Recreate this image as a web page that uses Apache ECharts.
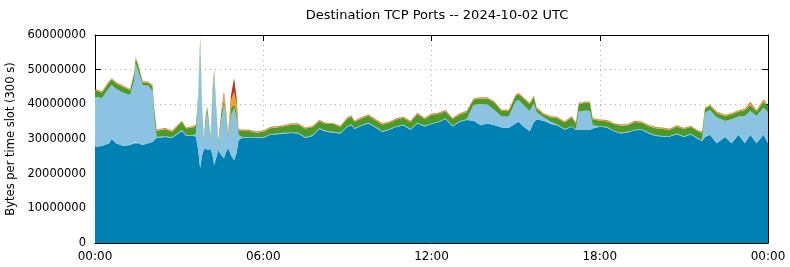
<!DOCTYPE html>
<html><head><meta charset="utf-8">
<script src="https://cdn.jsdelivr.net/npm/echarts@6/dist/echarts.min.js"></script>
<style>html,body{margin:0;padding:0;background:#fff}#c{width:790px;height:267px}</style>
</head><body><div id="c"></div>
<script>
// time of day in hours (UTC, 2024-10-02)
var hours = [0,0.25,0.5,0.6,0.75,1,1.25,1.4,1.45,1.55,1.7,1.9,2.05,2.12,2.2,2.5,2.75,3,3.1,3.25,
3.5,3.6,3.68,3.75,3.82,3.88,3.94,4,4.06,4.12,4.19,4.25,4.32,4.4,4.5,4.6,4.68,4.75,4.85,4.96,
5.05,5.12,5.25,5.5,5.75,6,6.25,6.5,6.75,7,7.25,7.5,7.75,8,8.25,8.5,8.75,9,9.15,9.25,
9.5,9.75,10,10.25,10.5,10.75,11,11.25,11.5,11.75,12,12.25,12.5,12.75,13,13.25,13.5,13.75,14,14.25,
14.5,14.75,15,15.1,15.25,15.5,15.65,15.75,16,16.25,16.5,16.75,17,17.15,17.25,17.5,17.65,17.75,18,18.25,
18.5,18.75,19,19.25,19.5,19.75,20,20.25,20.5,20.75,21,21.25,21.5,21.65,21.75,21.93,22.17,22.47,22.7,22.95,
23.17,23.37,23.59,23.84,24];
// bytes per slot, in millions
var port1 = [27.8,28.0,28.8,30.0,28.8,28.0,28.3,28.8,29.1,28.8,28.3,28.8,29.1,29.7,30.3,30.6,30.3,31.7,32.3,30.9,
30.9,30.7,26.8,21.6,25.4,26.8,27.4,26.8,26.8,27.1,25.4,22.5,24.5,26.8,25.4,24.5,26.3,27.4,25.4,23.9,
26.0,29.7,30.3,30.4,30.4,30.3,31.2,31.4,31.6,31.7,31.6,30.3,30.9,32.9,32.1,31.8,31.6,33.5,34.0,32.9,
33.8,34.5,33.3,32.0,32.7,33.5,33.9,32.7,34.5,33.6,34.3,34.8,35.8,33.6,34.9,35.5,35.3,34.0,34.5,34.0,
33.3,33.2,34.5,35.0,33.8,32.2,34.9,35.6,35.3,34.3,33.9,32.7,33.5,32.6,32.6,32.6,32.6,33.0,33.5,33.3,
32.2,31.6,31.9,32.5,32.6,31.6,30.9,30.7,30.7,31.4,30.6,31.3,30.0,29.4,30.6,31.2,28.8,30.6,28.8,31.2,
28.8,31.2,28.8,31.2,28.8];
var port2 = [14.4,13.8,15.9,15.6,15.6,15.4,14.4,18.2,22.7,20.6,17.2,16.6,14.7,5.8,0.3,0.2,0.2,0.3,0.3,0.2,
0.2,0.8,14.4,35.5,13.0,2.3,6.6,11.0,7.2,2.6,17.3,26.0,13.8,1.4,10.1,15.6,9.2,2.9,11.5,15.0,
10.1,1.4,0.3,0.2,0.2,0.2,0.2,0.2,0.2,0.2,0.2,0.2,0.2,0.2,0.2,0.2,0.2,0.2,0.2,0.2,
0.2,0.2,0.2,0.2,0.2,0.2,0.2,0.2,0.2,0.2,0.2,0.2,0.2,0.2,0.2,0.2,4.5,6.1,5.4,4.3,
3.2,3.3,6.3,6.3,6.2,5.9,5.3,2.2,1.0,0.7,0.2,0.2,0.2,0.2,5.3,5.6,5.5,1.0,0.2,0.2,
0.2,0.2,0.2,0.2,0.2,0.2,0.2,0.2,0.2,0.2,0.2,0.2,0.2,0.3,6.9,7.2,7.5,4.6,6.9,5.3,
7.8,6.9,7.8,7.8,8.9];
var port3 = [1.9,1.6,1.7,1.6,1.7,1.6,1.4,2.0,1.4,1.6,0.8,0.8,1.4,2.6,1.7,2.0,1.6,2.2,2.3,1.9,
2.3,2.3,1.2,2.0,0.9,0.9,1.7,1.4,1.2,0.9,1.2,1.4,1.2,0.9,2.0,1.4,1.2,0.9,2.0,1.2,
1.7,1.2,1.7,1.7,1.2,1.6,1.7,1.7,1.9,2.2,2.3,2.5,2.3,2.0,2.0,2.3,1.7,2.2,2.2,1.9,
1.9,2.0,1.9,2.0,1.8,1.9,2.0,2.0,2.5,2.0,2.5,2.2,2.0,2.0,2.0,2.0,1.6,1.6,1.7,2.2,
1.6,1.6,1.6,1.6,2.0,2.0,2.0,1.0,0.8,1.3,1.9,1.9,2.5,1.6,2.1,2.3,2.3,1.7,1.6,1.6,
1.9,2.0,1.9,2.2,1.9,1.9,2.0,2.0,1.8,2.0,2.0,2.0,2.0,2.1,1.2,1.2,1.2,1.4,1.4,1.4,
1.7,1.7,1.4,1.7,2.0];
var port4 = [0.25,0.25,0.25,0.25,0.25,0.25,0.25,0.25,0.25,0.25,0.25,0.25,0.25,0.25,0.25,0.25,0.25,0.25,0.25,0.25,
0.25,0.25,0.25,0.3,0.25,0.25,0.25,0.25,0.25,0.25,0.25,0.25,0.25,0.25,0.3,1.2,0.6,0.25,2.3,3.5,
2.3,0.3,0.25,0.25,0.25,0.25,0.25,0.25,0.25,0.25,0.25,0.25,0.25,0.25,0.25,0.25,0.25,0.25,0.25,0.25,
0.25,0.25,0.25,0.25,0.25,0.25,0.25,0.25,0.25,0.25,0.25,0.25,0.25,0.25,0.25,0.25,0.25,0.25,0.25,0.25,
0.25,0.25,0.25,0.25,0.25,0.25,0.25,0.25,0.25,0.25,0.25,0.25,0.25,0.25,0.25,0.25,0.25,0.25,0.25,0.25,
0.25,0.25,0.25,0.25,0.25,0.25,0.25,0.25,0.25,0.25,0.25,0.25,0.25,0.25,0.25,0.25,0.3,0.3,0.3,0.3,
0.3,0.6,0.3,0.5,0.3];
var port5 = [0.1,0.1,0.1,0.1,0.1,0.1,0.1,0.1,0.1,0.1,0.1,0.1,0.1,0.1,0.1,0.1,0.1,0.1,0.1,0.1,
0.1,0.1,0.1,0.1,0.1,0.1,0.1,0.1,0.1,0.1,0.1,0.1,0.1,0.1,0.1,0.9,0.3,0.1,1.4,4.0,
1.7,0.2,0.1,0.1,0.1,0.1,0.1,0.1,0.1,0.1,0.1,0.1,0.1,0.1,0.1,0.1,0.1,0.1,0.1,0.1,
0.1,0.1,0.1,0.1,0.1,0.1,0.1,0.1,0.1,0.1,0.1,0.1,0.1,0.1,0.1,0.1,0.1,0.1,0.1,0.1,
0.1,0.1,0.1,0.1,0.1,0.1,0.1,0.1,0.1,0.1,0.1,0.1,0.1,0.1,0.1,0.1,0.1,0.1,0.1,0.1,
0.1,0.1,0.1,0.1,0.1,0.1,0.1,0.1,0.1,0.1,0.1,0.1,0.1,0.1,0.1,0.1,0.1,0.1,0.1,0.1,
0.1,0.3,0.1,0.2,0.1];
var yTicks = [0,10000000,20000000,30000000,40000000,50000000,60000000];
var xTickLabels = ['00:00','06:00','12:00','18:00','00:00'];

var DAY0 = Date.UTC(2024, 9, 2);
var HOUR = 3600 * 1000;
var layers = [port1, port2, port3, port4, port5];
var colors = ['#0081b4', '#8cc3e2', '#4d9a2c', '#eda21a', '#b8321e'];
var FONT = 'DejaVu Sans';

var chart = echarts.init(document.getElementById('c'), null, {renderer: 'canvas'});
var series = layers.map(function (arr, i) {
  return {
    type: 'line', stack: 'total', xAxisIndex: 0, yAxisIndex: 0, z: 2,
    showSymbol: false, symbol: 'none', smooth: false,
    lineStyle: {width: 0, color: colors[i]},
    itemStyle: {color: colors[i]},
    areaStyle: {color: colors[i], opacity: 1},
    data: hours.map(function (h, k) { return [DAY0 + h * HOUR, arr[k] * 1e6]; }),
    animation: false
  };
});
var splitStyle = {show: true, lineStyle: {color: '#b0b0b0', width: 1, type: [1, 4]}};
var tickStyle = {show: true, inside: true, length: 6, lineStyle: {color: '#000'}};
chart.setOption({
  animation: false,
  title: {text: 'Destination TCP Ports -- 2024-10-02 UTC', left: 432, top: 4, textAlign: 'center',
    textStyle: {fontFamily: FONT, fontSize: 13, fontWeight: 'normal', color: '#000'}},
  grid: {left: 95, right: 22, top: 35, bottom: 24, show: false, containLabel: false, outerBoundsMode: 'none'},
  xAxis: [{
    // data axis (time), drawn invisibly
    type: 'time', min: DAY0, max: DAY0 + 24 * HOUR, position: 'bottom',
    axisLine: {show: false}, axisTick: {show: false}, axisLabel: {show: false},
    splitLine: {show: false}, minorTick: {show: false}
  }, {
    // visible hour axis
    type: 'value', min: 0, max: 24, interval: 6, position: 'bottom',
    axisLine: {show: true, onZero: false, lineStyle: {color: '#000', width: 1}},
    axisTick: tickStyle,
    axisLabel: {fontFamily: FONT, fontSize: 12, color: '#000', margin: 8,
      formatter: function (v) { return xTickLabels[Math.round(v / 6)]; }},
    splitLine: splitStyle
  }, {
    type: 'value', min: 0, max: 24, interval: 6, position: 'top',
    axisLine: {show: true, onZero: false, lineStyle: {color: '#000', width: 1}},
    axisTick: tickStyle,
    axisLabel: {show: false}, splitLine: {show: false}
  }],
  yAxis: [{
    type: 'value', min: 0, max: 60000000, interval: 10000000, position: 'left',
    name: 'Bytes per time slot (300 s)', nameLocation: 'middle', nameGap: 78, nameRotate: 90,
    nameTextStyle: {fontFamily: FONT, fontSize: 11.5, color: '#000'},
    axisLine: {show: true, onZero: false, lineStyle: {color: '#000', width: 1}},
    axisTick: tickStyle,
    axisLabel: {fontFamily: FONT, fontSize: 11.5, color: '#000', margin: 9,
      formatter: function (v) { return String(yTicks[Math.round(v / 10000000)]); }},
    splitLine: splitStyle
  }, {
    type: 'value', min: 0, max: 60000000, interval: 10000000, position: 'right',
    axisLine: {show: true, onZero: false, lineStyle: {color: '#000', width: 1}},
    axisTick: tickStyle,
    axisLabel: {show: false}, splitLine: {show: false}
  }],
  series: series
});
</script></body></html>
